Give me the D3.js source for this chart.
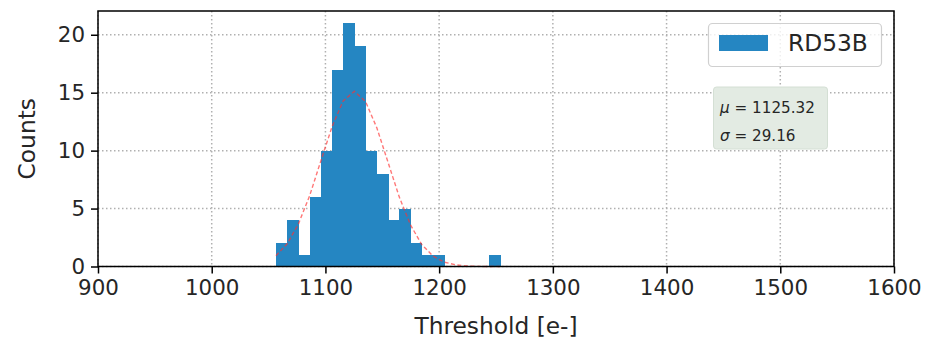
<!DOCTYPE html>
<html>
<head>
<meta charset="utf-8">
<script src="https://cdn.jsdelivr.net/npm/d3@7"></script>
<style>
  body { margin: 0; background: #fff; }
  svg { display: block; font-family: "DejaVu Sans", sans-serif; }
</style>
</head>
<body>
<svg id="chart" width="928" height="339"></svg>
<script>
// Histogram bin edges (threshold, e-) and counts per bin
const binEdges = [1056.5, 1066.4, 1076.2, 1086.1, 1095.9, 1105.8, 1115.6, 1125.5, 1135.3, 1145.2,
                  1155.1, 1164.9, 1174.8, 1184.6, 1194.5, 1204.3, 1214.2, 1224.0, 1233.9, 1243.8, 1253.6];
const binCounts = [2, 4, 1, 6, 10, 17, 21, 19, 10, 8, 4, 5, 2, 1, 1, 0, 0, 0, 0, 1];

// Gaussian fit read at each bin edge
const fitCounts = [0.93, 1.96, 3.66, 6.10, 9.09, 12.06, 14.29, 15.12, 14.23, 11.97,
                   8.98, 6.01, 3.59, 1.91, 0.91, 0.38, 0.15, 0.05, 0.01, 0.0, 0.0];

const xTicks = [900, 1000, 1100, 1200, 1300, 1400, 1500, 1600];
const yTicks = [0, 5, 10, 15, 20];
const seriesName = "RD53B";
const statLines = [["μ", " = 1125.32"], ["σ", " = 29.16"]];

const svg = d3.select("#chart");
const margin = {top: 11, right: 34, bottom: 72.5, left: 98};
const width = 928 - margin.left - margin.right;
const height = 339 - margin.top - margin.bottom;

const g = svg.append("g").attr("transform", `translate(${margin.left},${margin.top})`);

const x = d3.scaleLinear().domain([900, 1600]).range([0, width]);
const y = d3.scaleLinear().domain([0, 22.05]).range([height, 0]);

// grid
const grid = g.append("g").attr("stroke", "#b0b0b0").attr("stroke-width", 1.5)
  .attr("stroke-dasharray", "1.5,2.5");
xTicks.forEach(t => grid.append("line").attr("x1", x(t)).attr("x2", x(t)).attr("y1", 0).attr("y2", height));
yTicks.forEach(t => grid.append("line").attr("x1", 0).attr("x2", width).attr("y1", y(t)).attr("y2", y(t)));

// bars
const bins = binCounts.map((c, i) => ({x0: binEdges[i], x1: binEdges[i + 1], count: c}));
g.selectAll("rect.bar")
  .data(bins.filter(d => d.count > 0))
  .enter().append("rect")
  .attr("class", "bar")
  .attr("x", d => x(d.x0))
  .attr("width", d => x(d.x1) - x(d.x0) + 0.5)
  .attr("y", d => y(d.count))
  .attr("height", d => y(0) - y(d.count))
  .attr("shape-rendering", "crispEdges")
  .attr("fill", "#2586c2");

// fit line
const line = d3.line().x((d, i) => x(binEdges[i])).y(d => y(d));
g.append("path")
  .datum(fitCounts)
  .attr("d", line)
  .attr("fill", "none")
  .attr("stroke", "#ff3030")
  .attr("stroke-opacity", 0.65)
  .attr("stroke-width", 1.4)
  .attr("stroke-dasharray", "4,2.5");

// axes
const xAxis = d3.axisBottom(x).tickValues(xTicks).tickSize(7).tickPadding(6).tickFormat(d3.format("d"));
const yAxis = d3.axisLeft(y).tickValues(yTicks).tickSize(7).tickPadding(6);

const gx = g.append("g").attr("transform", `translate(0,${height})`).call(xAxis);
const gy = g.append("g").call(yAxis);
[gx, gy].forEach(a => {
  a.select(".domain").remove();
  a.selectAll(".tick line").attr("stroke", "#000").attr("stroke-width", 1.5);
  a.selectAll(".tick text").attr("fill", "#262626").attr("font-size", "21.4px")
    .attr("font-family", "DejaVu Sans");
});

// frame
g.append("rect").attr("width", width).attr("height", height)
  .attr("fill", "none").attr("stroke", "#000").attr("stroke-width", 1.5);

// axis labels
svg.append("text")
  .attr("x", margin.left + width / 2).attr("y", 334)
  .attr("text-anchor", "middle").attr("font-size", "23.3px").attr("fill", "#262626")
  .text("Threshold [e-]");
svg.append("text")
  .attr("transform", `translate(35,${margin.top + height / 2}) rotate(-90)`)
  .attr("text-anchor", "middle").attr("font-size", "23.3px").attr("fill", "#262626")
  .text("Counts");

// legend
const lg = svg.append("g");
lg.append("rect").attr("x", 708.5).attr("y", 23.5).attr("width", 173).attr("height", 43)
  .attr("rx", 4).attr("fill", "#fff").attr("fill-opacity", 0.8)
  .attr("stroke", "#d0d0d0").attr("stroke-width", 1.2);
lg.append("rect").attr("x", 719).attr("y", 35).attr("width", 49).attr("height", 16)
  .attr("fill", "#2586c2");
lg.append("text").attr("x", 788).attr("y", 51).attr("font-size", "23.3px").attr("fill", "#262626")
  .text(seriesName);

// stats box
const sb = svg.append("g");
sb.append("rect").attr("x", 713.5).attr("y", 87).attr("width", 114).attr("height", 62)
  .attr("rx", 3).attr("fill", "#e3ebe3").attr("stroke", "#d4dfd4").attr("stroke-width", 1);
statLines.forEach((s, i) => {
  const t = sb.append("text").attr("x", 720).attr("y", 113 + i * 27.5)
    .attr("font-size", "15.2px").attr("fill", "#262626");
  t.append("tspan").attr("font-style", "italic").text(s[0]);
  t.append("tspan").text(s[1]);
});
</script>
</body>
</html>
